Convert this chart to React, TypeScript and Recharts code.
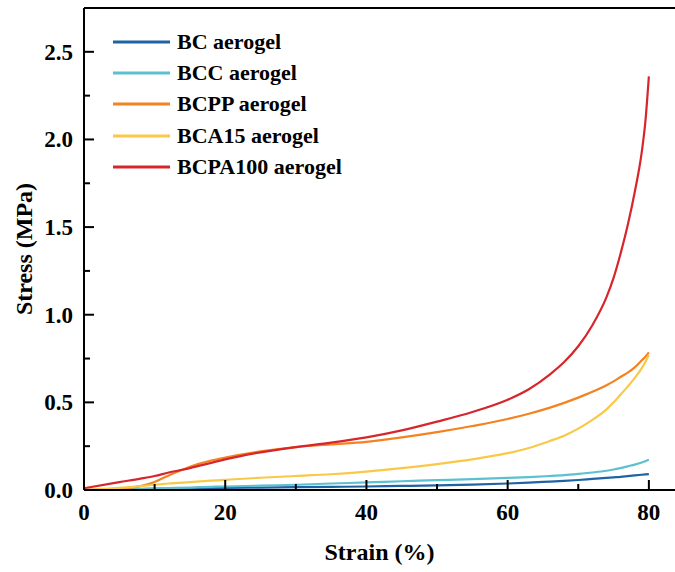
import React from "react";
import {
  LineChart,
  Line,
  XAxis,
  YAxis,
  Legend,
  ReferenceLine,
  Label,
} from "recharts";

const strain = [0, 5, 8, 10, 12, 15, 18, 20, 25, 30, 35, 40, 45, 50, 55, 60, 63, 66, 68, 70, 72, 74, 75, 76, 77, 78, 79, 79.5, 80];

const bc = [0, 0.003, 0.005, 0.006, 0.007, 0.009, 0.011, 0.012, 0.014, 0.016, 0.018, 0.02, 0.023, 0.026, 0.031, 0.037, 0.042, 0.048, 0.052, 0.057, 0.063, 0.069, 0.072, 0.075, 0.079, 0.083, 0.087, 0.089, 0.091];
const bcc = [0, 0.004, 0.007, 0.009, 0.011, 0.014, 0.018, 0.02, 0.025, 0.03, 0.037, 0.043, 0.05, 0.056, 0.062, 0.069, 0.074, 0.08, 0.085, 0.092, 0.1, 0.11, 0.117, 0.125, 0.135, 0.145, 0.157, 0.164, 0.172];
const bcpp = [0, 0.008, 0.022, 0.046, 0.083, 0.133, 0.168, 0.185, 0.22, 0.245, 0.26, 0.275, 0.3, 0.33, 0.365, 0.405, 0.435, 0.47, 0.497, 0.527, 0.56, 0.598, 0.62, 0.645, 0.67, 0.7, 0.74, 0.76, 0.785];
const bca15 = [0, 0.012, 0.022, 0.03, 0.037, 0.045, 0.053, 0.058, 0.07, 0.08, 0.09, 0.105, 0.125, 0.148, 0.175, 0.21, 0.24, 0.28, 0.31, 0.35, 0.4, 0.46, 0.5, 0.545, 0.59, 0.64, 0.695, 0.73, 0.77];
const bcpa100 = [0.01, 0.045, 0.065, 0.08, 0.1, 0.125, 0.155, 0.175, 0.215, 0.245, 0.27, 0.3, 0.34, 0.39, 0.445, 0.515, 0.575, 0.66, 0.73, 0.82, 0.94, 1.1, 1.21, 1.35, 1.51, 1.7, 1.93, 2.1, 2.36];

const xTicks = [0, 10, 20, 30, 40, 50, 60, 70, 80];
const yTicks = [0, 0.25, 0.5, 0.75, 1, 1.25, 1.5, 1.75, 2, 2.25, 2.5];

const series = [
  { key: "bc", name: "BC aerogel", color: "#1f63a3" },
  { key: "bcc", name: "BCC aerogel", color: "#5cc0d0" },
  { key: "bcpp", name: "BCPP aerogel", color: "#f4821f" },
  { key: "bca15", name: "BCA15 aerogel", color: "#f9c846" },
  { key: "bcpa100", name: "BCPA100 aerogel", color: "#d7262b" },
];

const data = strain.map((s, i) => ({
  strain: s,
  bc: bc[i],
  bcc: bcc[i],
  bcpp: bcpp[i],
  bca15: bca15[i],
  bcpa100: bcpa100[i],
}));

const FONT = "'Liberation Serif', 'Times New Roman', serif";

// ticks point into the plot, minor ones shorter and without labels
const XTick = ({ x, y, payload }: any) => {
  const major = payload.value % 20 === 0;
  return (
    <g>
      <line x1={x} x2={x} y1={y} y2={y - (major ? 10 : 6)} stroke="#000" strokeWidth={2} />
      {major && (
        <text x={x} y={y + 30} textAnchor="middle" fontFamily={FONT} fontWeight="bold" fontSize={23} fill="#000">
          {payload.value}
        </text>
      )}
    </g>
  );
};

const YTick = ({ x, y, payload }: any) => {
  const major = Math.abs((payload.value * 2) % 1) < 1e-6;
  return (
    <g>
      <line x1={x} x2={x + (major ? 10 : 6)} y1={y} y2={y} stroke="#000" strokeWidth={2} />
      {major && (
        <text x={x - 11} y={y + 8} textAnchor="end" fontFamily={FONT} fontWeight="bold" fontSize={23} fill="#000">
          {payload.value.toFixed(1)}
        </text>
      )}
    </g>
  );
};

const LegendBox = () => (
  <div style={{ fontFamily: FONT, fontWeight: "bold", fontSize: 22, color: "#000" }}>
    {series.map((s) => (
      <div key={s.key} style={{ display: "flex", alignItems: "center", height: 31.3 }}>
        <svg width={57} height={4} style={{ marginRight: 7 }}>
          <line x1={0} x2={57} y1={2} y2={2} stroke={s.color} strokeWidth={3} />
        </svg>
        <span>{s.name}</span>
      </div>
    ))}
  </div>
);

export default function App() {
  return (
    <div style={{ position: "absolute", left: 0, top: 0, background: "#fff" }}>
      <LineChart width={675} height={572} data={data} margin={{ top: 8, right: 0, left: 0, bottom: 0 }}>
        <XAxis
          dataKey="strain"
          type="number"
          domain={[0, 83.7]}
          ticks={xTicks}
          interval={0}
          height={82}
          tickSize={0}
          tickMargin={0}
          tick={<XTick />}
          axisLine={{ stroke: "#000", strokeWidth: 2 }}
        >
          <Label
            content={({ viewBox }: any) => (
              <text
                x={viewBox.x + viewBox.width / 2}
                y={viewBox.y + 70}
                textAnchor="middle"
                fontFamily={FONT}
                fontWeight="bold"
                fontSize={24}
                fill="#000"
              >
                Strain (%)
              </text>
            )}
          />
        </XAxis>
        <YAxis
          type="number"
          domain={[0, 2.75]}
          ticks={yTicks}
          interval={0}
          width={84}
          tickSize={0}
          tickMargin={0}
          tick={<YTick />}
          axisLine={{ stroke: "#000", strokeWidth: 2 }}
        >
          <Label
            content={({ viewBox }: any) => {
              const cx = viewBox.x + 32;
              const cy = viewBox.y + viewBox.height / 2;
              return (
                <text
                  x={cx}
                  y={cy}
                  transform={`rotate(-90 ${cx} ${cy})`}
                  textAnchor="middle"
                  fontFamily={FONT}
                  fontWeight="bold"
                  fontSize={24}
                  fill="#000"
                >
                  Stress (MPa)
                </text>
              );
            }}
          />
        </YAxis>
        <ReferenceLine y={2.75} stroke="#000" strokeWidth={2} />
        <Legend
          layout="vertical"
          verticalAlign="middle"
          align="center"
          content={<LegendBox />}
          wrapperStyle={{ left: 113, top: 26, width: "auto" }}
        />
        {series.map((s) => (
          <Line
            key={s.key}
            dataKey={s.key}
            name={s.name}
            type="monotone"
            stroke={s.color}
            strokeWidth={2.2}
            dot={false}
            isAnimationActive={false}
          />
        ))}
      </LineChart>
    </div>
  );
}
